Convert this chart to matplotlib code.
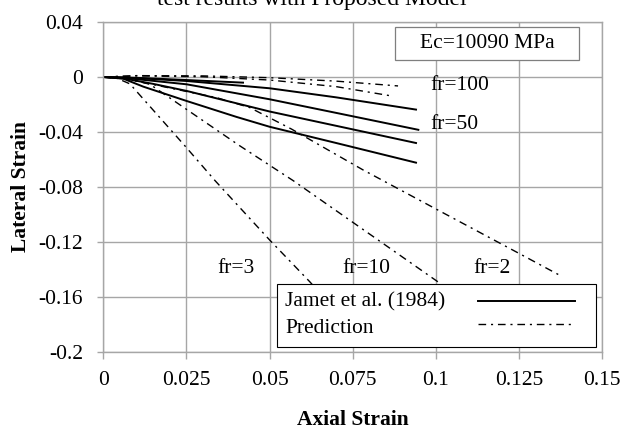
import matplotlib
matplotlib.use("Agg")
import matplotlib.pyplot as plt
from matplotlib.patches import Rectangle

plt.rcParams['font.family'] = ['Liberation Serif', 'DejaVu Serif']

# Jamet et al. (1984) test curves (axial strain, lateral strain)
test_x = [
    [0, 0.006, 0.015, 0.025, 0.05, 0.07, 0.094],
    [0, 0.006, 0.015, 0.025, 0.05, 0.07, 0.0947],
    [0, 0.006, 0.015, 0.025, 0.05, 0.07, 0.094],
    [0, 0.006, 0.012, 0.025, 0.04, 0.05, 0.07, 0.094],
    [0, 0.01, 0.025, 0.042],
]
test_y = [
    [0, -0.0004, -0.0015, -0.0029, -0.0082, -0.0148, -0.0237],
    [0, -0.0006, -0.0028, -0.0053, -0.0162, -0.0261, -0.0384],
    [0, -0.001, -0.005, -0.0101, -0.0251, -0.0355, -0.048],
    [0, -0.0012, -0.007, -0.0174, -0.029, -0.0362, -0.048, -0.0623],
    [0, -0.0006, -0.0022, -0.0041],
]

# model predictions
pred_x = [
    [0, 0.01, 0.03, 0.05, 0.07, 0.0886],
    [0, 0.01, 0.03, 0.05, 0.07, 0.0867],
    [0, 0.006, 0.016, 0.034, 0.044, 0.0566, 0.0781, 0.1, 0.1242, 0.1372],
    [0, 0.007, 0.014, 0.041, 0.0571, 0.1012, 0.11],
    [0, 0.004, 0.008, 0.0245, 0.0336, 0.0501, 0.0621, 0.068],
]
pred_y = [
    [0, 0.001, 0.0008, -0.0005, -0.003, -0.0065],
    [0, 0.0008, 0.0002, -0.0022, -0.007, -0.0138],
    [0, -0.001, -0.006, -0.015, -0.0222, -0.0379, -0.0676, -0.096, -0.1273, -0.1442],
    [0, -0.001, -0.0053, -0.05, -0.0754, -0.150, -0.165],
    [0, -0.0008, -0.005, -0.05, -0.0754, -0.1188, -0.149, -0.165],
]

# curve labels: text, x, y
fr_labels = [
    ("fr=100", 0.0982, -0.0065),
    ("fr=50", 0.0982, -0.0344),
    ("fr=3", 0.0399, -0.139),
    ("fr=10", 0.0792, -0.139),
    ("fr=2", 0.1168, -0.139),
]

legend_labels = ["Jamet et al. (1984)", "Prediction"]

x_ticks = [0, 0.025, 0.05, 0.075, 0.1, 0.125, 0.15]
x_ticklabels = ["0", "0.025", "0.05", "0.075", "0.1", "0.125", "0.15"]
y_ticks = [0.04, 0, -0.04, -0.08, -0.12, -0.16, -0.2]
y_ticklabels = ["0.04", "0", "-0.04", "-0.08", "-0.12", "-0.16", "-0.2"]

fs = 15.5
grid_c = '#a6a6a6'
dash = (5.5, 3.5, 1.5, 3.5)

fig = plt.figure(figsize=(6.22, 4.29), dpi=100)
ax = fig.add_axes([103.3 / 622, 1 - 352 / 429, 499 / 622, 330 / 429])

for xs, ys in zip(test_x, test_y):
    ax.plot(xs, ys, color='black', lw=1.4, solid_joinstyle='round')
for xs, ys in zip(pred_x, pred_y):
    ax.plot(xs, ys, color='black', lw=1.0, dashes=dash)

ax.set_xlim(0, 0.15)
ax.set_ylim(-0.2, 0.04)
ax.set_xticks(x_ticks)
ax.set_xticklabels(x_ticklabels)
ax.set_yticks(y_ticks)
ax.set_yticklabels(y_ticklabels)
ax.grid(True, color=grid_c, lw=1.0)
ax.set_axisbelow(True)
for s in ax.spines.values():
    s.set_color(grid_c)
    s.set_linewidth(1.0)
ax.tick_params(axis='x', length=5, width=1, color=grid_c, pad=9, labelsize=fs)
ax.tick_params(axis='y', length=4.5, width=1, color=grid_c, pad=10, labelsize=fs)

ax.set_xlabel("Axial Strain", fontsize=fs, fontweight='bold', va='center')
ax.xaxis.set_label_coords(0.5, -0.206)
ax.set_ylabel("Lateral Strain", fontsize=fs, fontweight='bold', va='center')
ax.yaxis.set_label_coords(-0.165, 0.5)

for txt, lx, ly in fr_labels:
    ha = 'left' if txt in ("fr=100", "fr=50") else 'center'
    ax.text(lx, ly, txt, fontsize=fs, ha=ha, va='center')

# Ec annotation box
ax.add_patch(Rectangle((0.5846, 0.8848), 0.3687, 0.101, transform=ax.transAxes,
                       facecolor='white', edgecolor='#7f7f7f', lw=0.9, zorder=4))
ax.text(0.769, 0.9355, "Ec=10090 MPa", transform=ax.transAxes, fontsize=fs,
        ha='center', va='center', zorder=5)

# legend drawn by hand: label on the left, line sample on the right
ax.add_patch(Rectangle((0.3487, 0.016), 0.6381, 0.1892, transform=ax.transAxes,
                       facecolor='white', edgecolor='black', lw=0.8, zorder=6))
ax.text(0.3641, 0.152, legend_labels[0], transform=ax.transAxes, fontsize=fs,
        ha='left', va='center', zorder=7)
ax.text(0.3641, 0.0727, legend_labels[1], transform=ax.transAxes, fontsize=fs,
        ha='left', va='center', zorder=7)
ax.plot([0.7515, 0.9453], [0.1545, 0.1545], transform=ax.transAxes,
        color='black', lw=1.4, zorder=7, clip_on=False)
ax.plot([0.7515, 0.9453], [0.0839, 0.0839], transform=ax.transAxes,
        color='black', lw=1.0, dashes=dash, zorder=7, clip_on=False)

fig.text(0.502, 1 - 5 / 429, "test results with Proposed Model", fontsize=17,
         ha='center', va='baseline')

fig.savefig("out.png", dpi=100)
